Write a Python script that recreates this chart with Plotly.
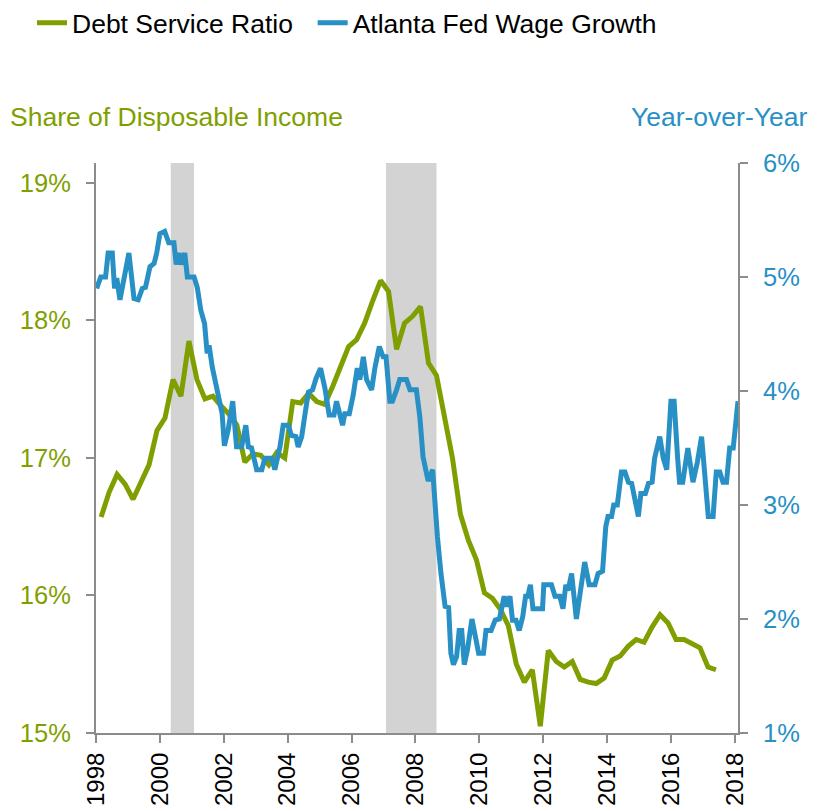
import plotly.graph_objects as go

# ---------------- data ----------------
# Debt Service Ratio (quarterly, share of disposable income, %)
dsr_years = [1998.16 + 0.25 * k for k in range(78)]
dsr_values = [
    16.57, 16.75, 16.88, 16.81, 16.70, 16.82, 16.95, 17.20,
    17.29, 17.57, 17.45, 17.85, 17.57, 17.43, 17.45, 17.38,
    17.32, 17.24, 16.97, 17.03, 17.02, 16.95, 17.04, 17.00,
    17.41, 17.40, 17.47, 17.41, 17.39, 17.52, 17.67, 17.81,
    17.86, 17.98, 18.14, 18.29, 18.21, 17.79, 17.98, 18.03,
    18.10, 17.69, 17.60, 17.32, 17.00, 16.59, 16.40, 16.26,
    16.02, 15.98, 15.90, 15.78, 15.50, 15.37, 15.46, 15.05,
    15.60, 15.52, 15.48, 15.52, 15.39, 15.37, 15.36, 15.40,
    15.53, 15.56, 15.63, 15.68, 15.66, 15.77, 15.86, 15.80,
    15.68, 15.68, 15.65, 15.62, 15.48, 15.46,
]

# Atlanta Fed Wage Growth (year-over-year, %)
wage_years = [
    1998.02, 1998.15, 1998.30, 1998.38, 1998.51, 1998.58, 1998.65, 1998.75, 1998.90, 1999.03,
    1999.19, 1999.32, 1999.45, 1999.55, 1999.69, 1999.82, 1999.90, 2000.00, 2000.15, 2000.28,
    2000.44, 2000.51, 2000.60, 2000.67, 2000.78, 2000.86, 2001.07, 2001.17, 2001.28, 2001.40,
    2001.48, 2001.54, 2001.64, 2001.80, 2001.95, 2002.02, 2002.14, 2002.28, 2002.40, 2002.56,
    2002.69, 2002.77, 2002.87, 2003.03, 2003.19, 2003.29, 2003.50, 2003.60, 2003.76, 2003.86,
    2004.02, 2004.12, 2004.26, 2004.33, 2004.44, 2004.54, 2004.65, 2004.78, 2004.89, 2005.03,
    2005.17, 2005.30, 2005.45, 2005.53, 2005.72, 2005.79, 2005.93, 2006.05, 2006.18, 2006.26,
    2006.37, 2006.47, 2006.63, 2006.73, 2006.87, 2006.99, 2007.08, 2007.20, 2007.28, 2007.41,
    2007.51, 2007.72, 2007.83, 2008.03, 2008.14, 2008.24, 2008.40, 2008.54, 2008.61, 2008.69,
    2008.80, 2008.93, 2009.04, 2009.11, 2009.19, 2009.29, 2009.37, 2009.45, 2009.53, 2009.63,
    2009.77, 2009.89, 2009.98, 2010.13, 2010.21, 2010.37, 2010.50, 2010.63, 2010.78, 2010.85,
    2010.96, 2011.04, 2011.15, 2011.25, 2011.36, 2011.45, 2011.52, 2011.60, 2011.68, 2011.98,
    2012.02, 2012.26, 2012.37, 2012.52, 2012.62, 2012.71, 2012.78, 2012.89, 2013.04, 2013.17,
    2013.30, 2013.44, 2013.62, 2013.72, 2013.86, 2013.96, 2014.03, 2014.14, 2014.21, 2014.32,
    2014.45, 2014.56, 2014.67, 2014.77, 2014.98, 2015.06, 2015.20, 2015.30, 2015.41, 2015.49,
    2015.65, 2015.76, 2015.87, 2016.00, 2016.10, 2016.21, 2016.27, 2016.37, 2016.53, 2016.69,
    2016.83, 2016.96, 2017.06, 2017.17, 2017.32, 2017.42, 2017.53, 2017.63, 2017.74, 2017.84,
    2017.95, 2018.10,
]
wage_values = [
    4.90, 5.00, 5.00, 5.21, 5.21, 4.90, 4.99, 4.80, 5.02, 5.21,
    4.81, 4.80, 4.90, 4.91, 5.09, 5.12, 5.21, 5.38, 5.40, 5.30,
    5.30, 5.11, 5.21, 5.11, 5.21, 5.00, 5.00, 4.91, 4.71, 4.59,
    4.33, 4.40, 4.21, 4.01, 3.80, 3.52, 3.66, 3.91, 3.51, 3.51,
    3.70, 3.51, 3.50, 3.31, 3.31, 3.41, 3.41, 3.31, 3.51, 3.70,
    3.70, 3.61, 3.60, 3.51, 3.60, 3.79, 3.99, 4.01, 4.11, 4.20,
    4.02, 3.79, 3.79, 3.91, 3.70, 3.80, 3.80, 3.96, 4.20, 4.10,
    4.30, 4.10, 4.01, 4.20, 4.39, 4.30, 4.30, 3.91, 3.91, 4.01,
    4.10, 4.10, 4.01, 4.01, 3.77, 3.42, 3.21, 3.31, 3.01, 2.72,
    2.40, 2.11, 2.10, 1.70, 1.60, 1.67, 1.90, 1.90, 1.60, 1.73,
    2.00, 1.84, 1.70, 1.70, 1.90, 1.90, 1.99, 2.00, 2.20, 2.11,
    2.20, 1.99, 1.99, 1.90, 2.02, 2.20, 2.20, 2.30, 2.09, 2.09,
    2.30, 2.30, 2.20, 2.20, 2.09, 2.30, 2.25, 2.40, 2.00, 2.25,
    2.50, 2.30, 2.30, 2.40, 2.42, 2.81, 2.90, 2.90, 3.00, 3.00,
    3.29, 3.29, 3.20, 3.19, 2.90, 3.10, 3.10, 3.19, 3.20, 3.41,
    3.60, 3.41, 3.31, 3.91, 3.91, 3.41, 3.20, 3.20, 3.50, 3.20,
    3.38, 3.60, 3.29, 2.90, 2.90, 3.29, 3.29, 3.20, 3.20, 3.50,
    3.50, 3.91,
]

# shaded periods
shade_start = [2000.34, 2007.08]
shade_end = [2001.07, 2008.66]

year_ticks = list(range(1998, 2019, 2))
year_labels = [str(y) for y in year_ticks]
left_ticks = [15, 16, 17, 18, 19]
left_labels = [f"{v}%" for v in left_ticks]
right_ticks = [1, 2, 3, 4, 5, 6]
right_labels = [f"{v}%" for v in right_ticks]

# ---------------- styles ----------------
GREEN = "#7F9F00"
BLUE = "#2890C5"
AXIS = "#8C8C8C"
FONT = "Liberation Sans, Arial, sans-serif"
NBSP = "\u00a0"

fig = go.Figure()
fig.add_trace(go.Scatter(
    x=dsr_years, y=dsr_values, mode="lines", name="Debt Service Ratio" + NBSP * 2,
    line=dict(color=GREEN, width=5), yaxis="y",
))
fig.add_trace(go.Scatter(
    x=wage_years, y=wage_values, mode="lines", name="Atlanta Fed Wage Growth",
    line=dict(color=BLUE, width=5), yaxis="y2",
))

for s, e in zip(shade_start, shade_end):
    fig.add_shape(type="rect", xref="x", yref="paper", x0=s, x1=e, y0=0, y1=1,
                  fillcolor="#D3D3D3", line=dict(width=0), layer="below")

# page body adds an 8px offset, so the figure is 8px smaller than the window
W, H = 809, 803
fig.update_layout(
    width=W, height=H, autosize=False,
    margin=dict(l=88, r=79, t=155, b=78, autoexpand=False),
    paper_bgcolor="white", plot_bgcolor="white",
    font=dict(family=FONT, size=24, color="black"),
    showlegend=True,
    legend=dict(orientation="h", xref="container", yref="container",
                x=24 / W, y=1 - 15 / H, xanchor="left", yanchor="middle",
                font=dict(size=26.5, color="black"), itemwidth=30, tracegroupgap=0,
                bgcolor="rgba(0,0,0,0)"),
    xaxis=dict(range=[1998, 2018.1], tickvals=year_ticks, ticktext=year_labels,
               tickangle=-90, ticks="outside", ticklen=8, tickwidth=2, tickcolor=AXIS,
               showline=True, linecolor=AXIS, linewidth=2, showgrid=False, zeroline=False,
               automargin=False, tickfont=dict(size=24, color="black")),
    yaxis=dict(range=[15, 19.145], tickvals=left_ticks, ticktext=left_labels,
               ticks="outside", ticklen=8, tickwidth=2, tickcolor=AXIS,
               showline=True, linecolor=AXIS, linewidth=2, showgrid=False, zeroline=False,
               automargin=False, tickfont=dict(size=25.5, color=GREEN), ticklabelstandoff=10),
    yaxis2=dict(range=[1, 6], tickvals=right_ticks, ticktext=right_labels,
                overlaying="y", side="right",
                ticks="outside", ticklen=8, tickwidth=2, tickcolor=AXIS,
                showline=True, linecolor=AXIS, linewidth=2, showgrid=False, zeroline=False,
                automargin=False, tickfont=dict(size=25.5, color=BLUE), ticklabelstandoff=10),
    annotations=[
        dict(text="Share of Disposable Income", xref="paper", yref="paper",
             x=-88 / 642, y=1.0807, xanchor="left", yanchor="middle", showarrow=False,
             font=dict(size=26.5, color=GREEN)),
        dict(text="Year-over-Year", xref="paper", yref="paper",
             x=(801 - 88) / 642, y=1.0807, xanchor="right", yanchor="middle", showarrow=False,
             font=dict(size=26.5, color=BLUE)),
    ],
)

fig.write_html("out.html")
